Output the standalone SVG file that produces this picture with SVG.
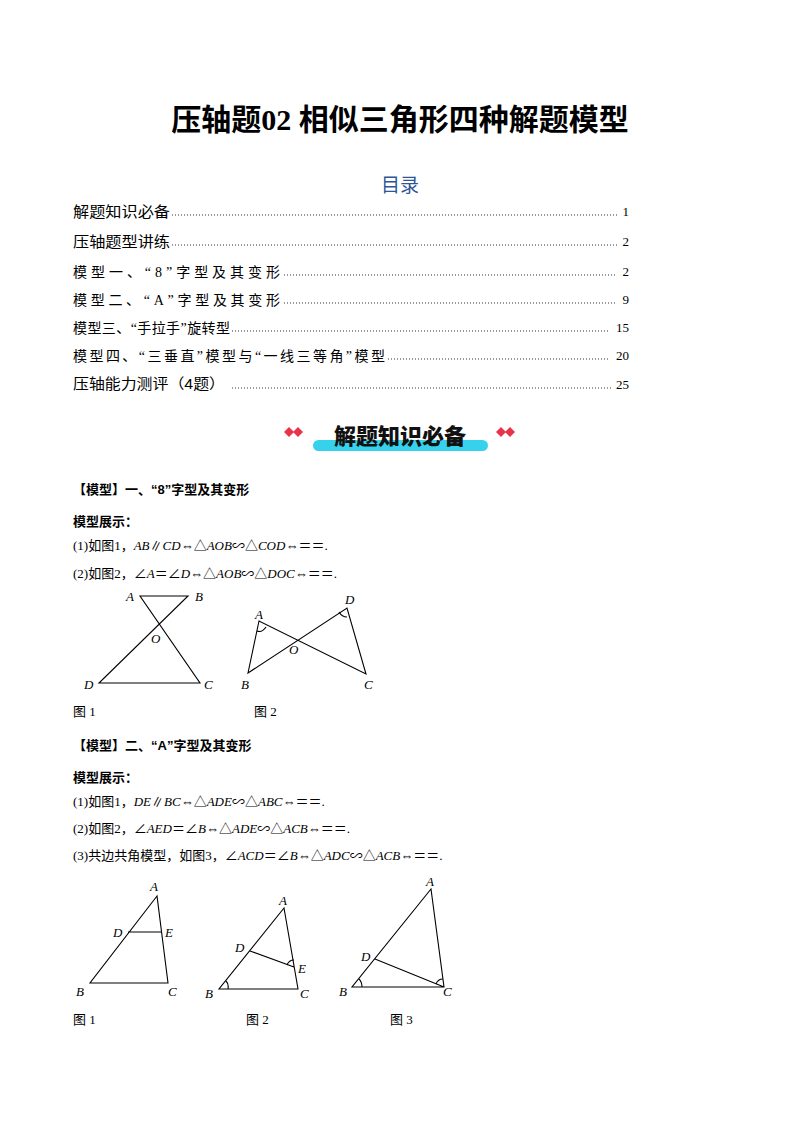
<svg xmlns="http://www.w3.org/2000/svg" width="800" height="1132" viewBox="0 0 800 1132">
<style>
.t{font-family:"Liberation Serif","Noto Sans CJK SC",serif;font-size:13px;fill:#000}
.m{font-family:"Liberation Serif","Noto Sans CJK SC",serif;font-size:14px;fill:#000}
.s{font-family:"Liberation Sans","Noto Sans CJK SC",sans-serif;font-size:14.5px;fill:#000}
.b{font-family:"Liberation Sans","Noto Sans CJK SC",sans-serif;font-size:13px;font-weight:bold;fill:#000}
.l{font-family:"Liberation Serif",serif;font-style:italic;font-size:13px;fill:#000}
.g{stroke:#000;stroke-width:1.1;fill:none}
</style>
<rect width="800" height="1132" fill="#fff"/>
<text x="400" y="130" text-anchor="middle" style="font-family:'Liberation Serif','Noto Sans CJK SC',serif;font-size:30px;font-weight:bold">压轴题02  相似三角形四种解题模型</text>
<text x="400" y="192" text-anchor="middle" style="font-family:'Liberation Serif','Noto Sans CJK SC',serif;font-size:19px;fill:#2f5597">目录</text>
<g id="toc">
<text class="s" x="73" y="217" textLength="97" lengthAdjust="spacingAndGlyphs">解题知识必备</text><text class="t" x="629" y="216" text-anchor="end">1</text>
<text class="s" x="73" y="247" textLength="97" lengthAdjust="spacingAndGlyphs">压轴题型讲练</text><text class="t" x="629" y="246" text-anchor="end">2</text>
<text class="m" x="73" y="277" textLength="207">模型一、“8”字型及其变形</text><text class="t" x="629" y="276" text-anchor="end">2</text>
<text class="m" x="73" y="305" textLength="207">模型二、“A”字型及其变形</text><text class="t" x="629" y="304" text-anchor="end">9</text>
<text class="m" x="73" y="333" textLength="157">模型三、“手拉手”旋转型</text><text class="t" x="629" y="332" text-anchor="end">15</text>
<text class="m" x="73" y="361" textLength="312">模型四、“三垂直”模型与“一线三等角”模型</text><text class="t" x="629" y="360" text-anchor="end">20</text>
<text class="s" x="73" y="389" textLength="152" lengthAdjust="spacingAndGlyphs">压轴能力测评（4题）</text><text class="t" x="629" y="389" text-anchor="end">25</text>
<g stroke="#000" stroke-dasharray="1 2" stroke-width="0.8">
<line x1="172" y1="215" x2="619" y2="215"/><line x1="172" y1="245" x2="619" y2="245"/>
<line x1="284" y1="275" x2="617" y2="275"/><line x1="284" y1="303" x2="617" y2="303"/>
<line x1="232" y1="331" x2="609" y2="331"/><line x1="388" y1="359" x2="609" y2="359"/>
<line x1="232" y1="388" x2="612" y2="388"/></g>
</g>
<g id="banner">
<rect x="313" y="440" width="175" height="11" rx="5.5" fill="#36d2ec"/>
<g fill="#e8334a"><path d="M284 432l5-5 5 5-5 5z"/><path d="M293 432l5-5 5 5-5 5z"/><path d="M496 432l5-5 5 5-5 5z"/><path d="M505 432l5-5 5 5-5 5z"/></g>
<text x="400" y="444" text-anchor="middle" style="font-family:'Noto Sans CJK SC',sans-serif;font-size:22px;font-weight:900;fill:#111">解题知识必备</text>
</g>
<text class="b" x="73" y="494">【模型】一、“8”字型及其变形</text>
<text class="b" x="73" y="526">模型展示：</text>
<text class="t" x="73" y="550">(1)如图1，<tspan font-style="italic">AB</tspan>∥<tspan font-style="italic">CD</tspan>⇔△<tspan font-style="italic">AOB</tspan>∽△<tspan font-style="italic">COD</tspan>⇔＝＝.</text>
<text class="t" x="73" y="578">(2)如图2，∠<tspan font-style="italic">A</tspan>＝∠<tspan font-style="italic">D</tspan>⇔△<tspan font-style="italic">AOB</tspan>∽△<tspan font-style="italic">DOC</tspan>⇔＝＝.</text>
<g id="fig8-1">
<path class="g" d="M140 596H188L99 683H200Z"/>
<text class="l" x="126" y="601">A</text><text class="l" x="195" y="601">B</text><text class="l" x="151" y="643">O</text><text class="l" x="84" y="689">D</text><text class="l" x="204" y="689">C</text>
<text class="t" x="73" y="716">图 1</text>
</g>
<g id="fig8-2">
<path class="g" d="M259 621L248 673L347 608L366 674Z"/>
<path class="g" d="M257 631q5 2 9-4M339 612q3 5 8 5"/>
<text class="l" x="255" y="619">A</text><text class="l" x="345" y="604">D</text><text class="l" x="289" y="654">O</text><text class="l" x="241" y="689">B</text><text class="l" x="364" y="689">C</text>
<text class="t" x="254" y="716">图 2</text>
</g>
<text class="b" x="73" y="750">【模型】二、“A”字型及其变形</text>
<text class="b" x="73" y="782">模型展示：</text>
<text class="t" x="73" y="806">(1)如图1，<tspan font-style="italic">DE</tspan>∥<tspan font-style="italic">BC</tspan>⇔△<tspan font-style="italic">ADE</tspan>∽△<tspan font-style="italic">ABC</tspan>⇔＝＝.</text>
<text class="t" x="73" y="833">(2)如图2，∠<tspan font-style="italic">AED</tspan>＝∠<tspan font-style="italic">B</tspan>⇔△<tspan font-style="italic">ADE</tspan>∽△<tspan font-style="italic">ACB</tspan>⇔＝＝.</text>
<text class="t" x="73" y="860">(3)共边共角模型，如图3，∠<tspan font-style="italic">ACD</tspan>＝∠<tspan font-style="italic">B</tspan>⇔△<tspan font-style="italic">ADC</tspan>∽△<tspan font-style="italic">ACB</tspan>⇔＝＝.</text>
<g id="figA-1">
<path class="g" d="M157 896L90 983H168ZM128 932H161"/>
<text class="l" x="150" y="891">A</text><text class="l" x="113" y="937">D</text><text class="l" x="165" y="937">E</text><text class="l" x="76" y="996">B</text><text class="l" x="168" y="996">C</text>
<text class="t" x="73" y="1024">图 1</text>
</g>
<g id="figA-2">
<path class="g" d="M284 908L219 989H298ZM250 951L294 967"/>
<path class="g" d="M226 981q3 3 2 8M287 965q2-5 7-5"/>
<text class="l" x="279" y="905">A</text><text class="l" x="235" y="952">D</text><text class="l" x="298" y="973">E</text><text class="l" x="205" y="998">B</text><text class="l" x="300" y="998">C</text>
<text class="t" x="246" y="1024">图 2</text>
</g>
<g id="figA-3">
<path class="g" d="M431 889L352 987H444ZM375 959L444 987"/>
<path class="g" d="M359 979q3 3 3 8M436 984q2-5 7-5"/>
<text class="l" x="426" y="886">A</text><text class="l" x="361" y="961">D</text><text class="l" x="339" y="996">B</text><text class="l" x="443" y="996">C</text>
<text class="t" x="390" y="1024">图 3</text>
</g>
</svg>
